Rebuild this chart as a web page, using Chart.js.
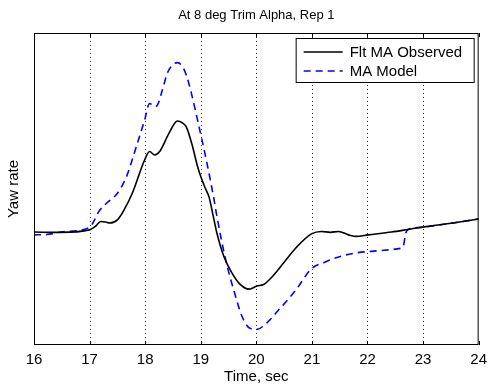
<!DOCTYPE html>
<html>
<head>
<meta charset="utf-8">
<script src="https://cdn.jsdelivr.net/npm/chart.js@4/dist/chart.umd.min.js"></script>
<style>
  body { margin: 0; background: #fff; }
  #wrap { width: 493px; height: 389px; }
</style>
</head>
<body>
<div id="wrap"><canvas id="yawChart" width="493" height="389"></canvas></div>
<script>
const chartTitle = 'At 8 deg Trim Alpha, Rep 1';

// flight-measured yaw rate
const timeObs = [16.00, 16.47, 17.00, 17.11, 17.20, 17.29, 17.36, 17.50, 17.63, 17.77,
  17.99, 18.08, 18.17, 18.26, 18.43, 18.58, 18.67, 18.74, 18.85, 18.94,
  19.01, 19.08, 19.15, 19.22, 19.29, 19.42, 19.56, 19.70, 19.87, 20.01,
  20.13, 20.28, 20.49, 20.71, 20.99, 21.17, 21.33, 21.48, 21.66, 21.80,
  22.01, 22.43, 22.78, 22.96, 23.57, 24.00];
const yawObs = [3.62, 3.61, 3.69, 3.81, 3.96, 3.94, 3.91, 4.01, 4.36, 4.87,
  5.93, 6.20, 6.09, 6.20, 6.79, 7.18, 7.12, 6.99, 6.38, 5.74,
  5.35, 5.03, 4.74, 4.17, 3.59, 2.82, 2.31, 1.96, 1.79, 1.89,
  1.94, 2.18, 2.63, 3.11, 3.56, 3.64, 3.61, 3.64, 3.53, 3.48,
  3.53, 3.62, 3.72, 3.77, 3.92, 4.04];

// model response
const timeModel = [16.00, 16.23, 16.52, 17.00, 17.09, 17.16, 17.31, 17.49, 17.66, 17.84,
  17.99, 18.08, 18.17, 18.22, 18.31, 18.40, 18.49, 18.58, 18.67, 18.74,
  18.83, 18.97, 19.10, 19.24, 19.29, 19.45, 19.63, 19.74, 19.88, 20.01,
  20.19, 20.40, 20.71, 20.99, 21.24, 21.53, 21.83, 22.19, 22.60, 22.64,
  22.69, 22.73, 22.96, 23.57, 24.00];
const yawModel = [3.53, 3.54, 3.63, 3.77, 4.01, 4.26, 4.55, 4.84, 5.38, 6.35,
  7.21, 7.74, 7.64, 7.69, 8.17, 8.72, 8.97, 9.05, 8.93, 8.65,
  8.08, 6.99, 5.93, 4.65, 4.13, 2.72, 1.54, 0.93, 0.54, 0.50,
  0.71, 1.12, 1.76, 2.44, 2.66, 2.85, 2.96, 3.02, 3.10, 3.14,
  3.59, 3.70, 3.77, 3.92, 4.04];

const timeTicks = [16, 17, 18, 19, 20, 21, 22, 23, 24];

const FONT = '"Liberation Sans", Arial, sans-serif';

function toPoints(xs, ys) {
  return xs.map((x, i) => ({ x: x, y: ys[i] }));
}

// dotted vertical grid under the lines
const gridPlugin = {
  id: 'dottedGrid',
  beforeDatasetsDraw(chart) {
    const ctx = chart.ctx;
    const a = chart.chartArea;
    const xs = chart.scales.x;
    ctx.save();
    ctx.strokeStyle = '#333';
    ctx.lineWidth = 1;
    ctx.setLineDash([1, 3]);
    timeTicks.slice(1, -1).forEach(t => {
      const px = Math.round(xs.getPixelForValue(t)) + 0.5;
      ctx.beginPath();
      ctx.moveTo(px, a.top);
      ctx.lineTo(px, a.bottom);
      ctx.stroke();
    });
    ctx.restore();
  }
};

// title, box, inner tick marks and legend drawn on top of the plot
const framePlugin = {
  id: 'frame',
  afterDraw(chart) {
    const ctx = chart.ctx;
    const a = chart.chartArea;
    const xs = chart.scales.x;
    ctx.save();

    ctx.fillStyle = '#000';
    ctx.font = '13px ' + FONT;
    ctx.textAlign = 'center';
    ctx.textBaseline = 'middle';
    ctx.fillText(chartTitle, (a.left + a.right) / 2, 15);
    ctx.textAlign = 'left';

    ctx.strokeStyle = '#000';
    ctx.lineWidth = 1;
    ctx.strokeRect(a.left + 0.5, a.top + 0.5, a.right - a.left - 1, a.bottom - a.top - 1);

    timeTicks.forEach(t => {
      const px = Math.round(xs.getPixelForValue(t)) + 0.5;
      ctx.beginPath();
      ctx.moveTo(px, a.bottom);
      ctx.lineTo(px, a.bottom - 4);
      ctx.moveTo(px, a.top);
      ctx.lineTo(px, a.top + 4);
      ctx.stroke();
    });

    // legend
    const boxW = 178, boxH = 44;
    const bx = a.right - 5 - boxW, by = a.top + 5;
    ctx.fillStyle = '#fff';
    ctx.fillRect(bx, by, boxW, boxH);
    ctx.strokeRect(bx + 0.5, by + 0.5, boxW, boxH);
    ctx.font = '15px ' + FONT;
    chart.data.datasets.forEach((ds, i) => {
      const ly = by + 14 + i * 19;
      ctx.strokeStyle = ds.borderColor;
      ctx.lineWidth = ds.borderWidth;
      ctx.setLineDash(ds.borderDash || []);
      ctx.beginPath();
      ctx.moveTo(bx + 8, ly);
      ctx.lineTo(bx + 47, ly);
      ctx.stroke();
      ctx.setLineDash([]);
      ctx.fillStyle = '#000';
      ctx.fillText(ds.label, bx + 54, ly + 1);
    });
    ctx.restore();
  }
};

new Chart(document.getElementById('yawChart'), {
  type: 'line',
  data: {
    datasets: [
      {
        label: 'Flt MA Observed',
        data: toPoints(timeObs, yawObs),
        borderColor: '#000000',
        borderWidth: 1.6,
        pointRadius: 0,
        cubicInterpolationMode: 'monotone',
        fill: false,
      },
      {
        label: 'MA Model',
        data: toPoints(timeModel, yawModel),
        borderColor: '#0000ff',
        borderWidth: 1.6,
        borderDash: [7, 5],
        pointRadius: 0,
        cubicInterpolationMode: 'monotone',
        fill: false,
      },
    ],
  },
  options: {
    responsive: false,
    animation: false,
    layout: { padding: { left: 0, right: 12, top: 33, bottom: 0 } },
    scales: {
      x: {
        type: 'linear',
        min: 16,
        max: 24,
        afterBuildTicks: scale => {
          scale.ticks = timeTicks.map(v => ({ value: v }));
        },
        afterFit: scale => { scale.height = 44; },
        ticks: {
          color: '#000',
          padding: 6,
          font: { family: FONT, size: 15 },
        },
        grid: { display: false, drawTicks: false },
        border: { display: false },
        title: {
          display: true,
          text: 'Time, sec',
          color: '#000',
          padding: { top: 0, bottom: 3 },
          font: { family: FONT, size: 15 },
        },
      },
      y: {
        min: 0,
        max: 10,
        afterFit: scale => { scale.width = 34; },
        ticks: { display: false },
        grid: { display: false, drawTicks: false },
        border: { display: false },
        title: {
          display: true,
          text: 'Yaw rate',
          color: '#000',
          padding: { top: 5, bottom: 0 },
          font: { family: FONT, size: 15 },
        },
      },
    },
    plugins: {
      legend: { display: false },
      tooltip: { enabled: false },
      title: { display: false },
    },
  },
  plugins: [gridPlugin, framePlugin],
});
</script>
</body>
</html>
